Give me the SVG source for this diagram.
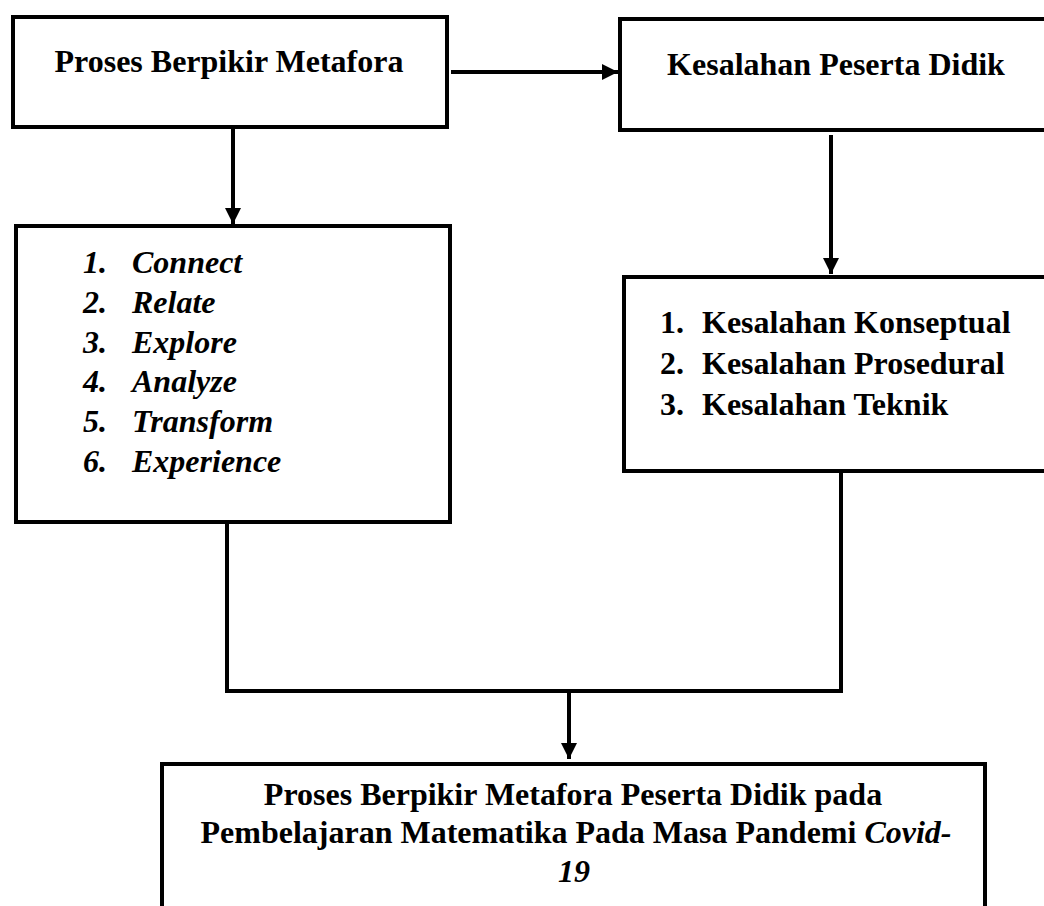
<svg xmlns="http://www.w3.org/2000/svg" width="1044" height="906" viewBox="0 0 1044 906">
<style>
.box{fill:#fff;stroke:#000;stroke-width:4}
.ln{fill:none;stroke:#000;stroke-width:4}
text{font-family:"Liberation Serif","Times New Roman",serif;font-size:32px;font-weight:bold;fill:#000}
.it{font-style:italic}
.c{text-anchor:middle}
</style>
<defs>
<marker id="ah" markerWidth="16" markerHeight="16" viewBox="0 0 16 16" refX="16" refY="8" orient="auto" markerUnits="userSpaceOnUse">
<path d="M0,0 L16,8 L0,16 Z" fill="#000"/>
</marker>
</defs>
<rect width="1044" height="906" fill="#fff"/>
<g id="connectors">
<line class="ln" x1="451" y1="72" x2="618" y2="72" marker-end="url(#ah)"/>
<line class="ln" x1="233" y1="129" x2="233" y2="224" marker-end="url(#ah)"/>
<line class="ln" x1="831" y1="135" x2="831" y2="274" marker-end="url(#ah)"/>
<polyline class="ln" points="227,524 227,691 841,691 841,473"/>
<line class="ln" x1="569" y1="691" x2="569" y2="759" marker-end="url(#ah)"/>
</g>
<g id="node-proses">
<rect class="box" x="13" y="17" width="434" height="110"/>
<text class="c" x="229" y="72">Proses Berpikir Metafora</text>
</g>
<g id="node-kesalahan">
<rect class="box" x="620" y="19" width="440" height="111"/>
<text class="c" x="836" y="75">Kesalahan Peserta Didik</text>
</g>
<g id="node-steps">
<rect class="box" x="16" y="226" width="434" height="296"/>
<g class="it">
<text class="it" x="83" y="273">1.</text><text class="it" x="132" y="273">Connect</text>
<text class="it" x="83" y="313">2.</text><text class="it" x="132" y="313">Relate</text>
<text class="it" x="83" y="353">3.</text><text class="it" x="132" y="353">Explore</text>
<text class="it" x="83" y="392">4.</text><text class="it" x="132" y="392">Analyze</text>
<text class="it" x="83" y="432">5.</text><text class="it" x="132" y="432">Transform</text>
<text class="it" x="83" y="472">6.</text><text class="it" x="132" y="472">Experience</text>
</g>
</g>
<g id="node-jenis">
<rect class="box" x="624" y="277" width="440" height="194"/>
<text x="660" y="333">1.</text><text x="702" y="333">Kesalahan Konseptual</text>
<text x="660" y="374">2.</text><text x="702" y="374">Kesalahan Prosedural</text>
<text x="660" y="415">3.</text><text x="702" y="415">Kesalahan Teknik</text>
</g>
<g id="node-hasil">
<rect class="box" x="162" y="764" width="823" height="160"/>
<text class="c" x="573" y="805">Proses Berpikir Metafora Peserta Didik pada</text>
<text class="c" x="576" y="843">Pembelajaran Matematika Pada Masa Pandemi <tspan class="it">Covid-</tspan></text>
<text class="c it" x="574" y="882">19</text>
</g>
</svg>
